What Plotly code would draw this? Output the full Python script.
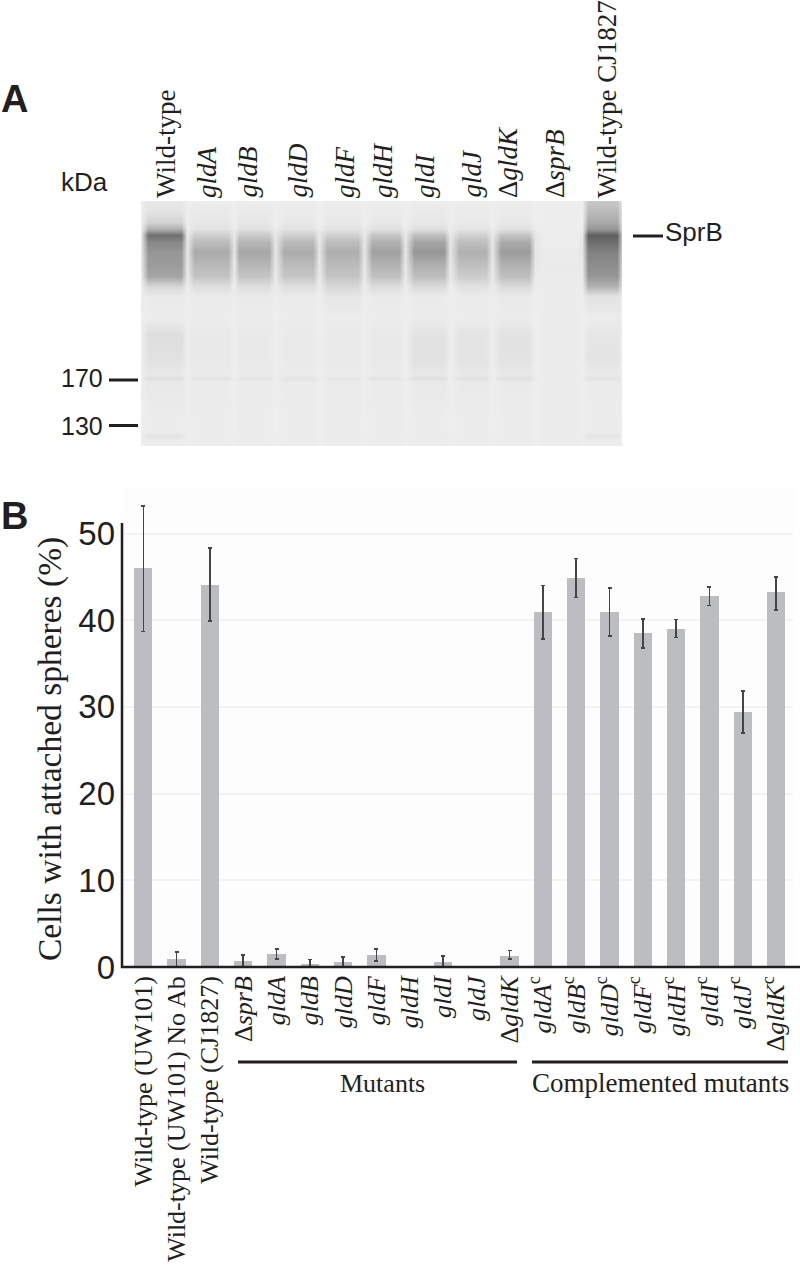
import plotly.graph_objects as go

W, H = 800, 1271

# panel B data
labels = ["Wild-type (UW101)", "Wild-type (UW101) No Ab", "Wild-type (CJ1827)",
          "Δ<i>sprB</i>", "<i>gldA</i>", "<i>gldB</i>", "<i>gldD</i>", "<i>gldF</i>",
          "<i>gldH</i>", "<i>gldI</i>", "<i>gldJ</i>", "Δ<i>gldK</i>",
          "<i>gldA</i><sup>c</sup>", "<i>gldB</i><sup>c</sup>", "<i>gldD</i><sup>c</sup>",
          "<i>gldF</i><sup>c</sup>", "<i>gldH</i><sup>c</sup>", "<i>gldI</i><sup>c</sup>",
          "<i>gldJ</i><sup>c</sup>", "Δ<i>gldK</i><sup>c</sup>"]
values = [46.0, 0.9, 44.05, 0.7, 1.5, 0.3, 0.6, 1.4, 0, 0.6, 0, 1.3,
          41.0, 44.9, 41.0, 38.5, 39.0, 42.8, 29.4, 43.2]
err_up = [7.2, 0.8, 4.25, 0.7, 0.55, 0.55, 0.55, 0.65, 0, 0.7, 0, 0.6,
          3.0, 2.2, 2.7, 1.65, 1.1, 1.05, 2.4, 1.8]
err_down = [7.3, 0.9, 4.15, 0.7, 0.6, 0.3, 0.6, 0.7, 0, 0.6, 0, 0.4,
            3.2, 2.3, 2.8, 1.7, 1.0, 1.1, 2.4, 2.0]
y_ticks = [0, 10, 20, 30, 40, 50]

# panel A blot, grey levels read per lane and row
lane_labels = ["Wild-type", "<i>gldA</i>", "<i>gldB</i>", "<i>gldD</i>", "<i>gldF</i>", "<i>gldH</i>",
               "<i>gldI</i>", "<i>gldJ</i>", "Δ<i>gldK</i>", "Δ<i>sprB</i>", "Wild-type CJ1827"]
lane_left = [144, 190, 235, 280, 323, 368, 410, 455, 497, 540, 584]
lane_right = [185, 232, 273, 317, 362, 403, 448, 490, 533, 580, 621]
blot_rows = [201, 212, 222, 229, 235, 242, 252, 264, 276, 286, 296, 318, 335, 362, 374, 378, 382, 420, 432, 436, 440, 446]
blot_gap = [238, 238, 238, 236, 232, 230, 230, 232, 234, 236, 237, 238, 238, 238, 238, 236, 238, 238, 238, 237, 238, 238]
lane_grey = [
    [232, 226, 212, 175, 112, 135, 150, 155, 165, 215, 234, 236, 222, 226, 232, 224, 232, 236, 236, 226, 236, 236],
    [236, 234, 231, 226, 206, 188, 170, 184, 196, 222, 235, 236, 233, 233, 235, 228, 235, 236, 236, 236, 236, 236],
    [236, 234, 231, 224, 202, 182, 166, 182, 196, 222, 234, 236, 233, 233, 235, 228, 235, 236, 236, 236, 236, 236],
    [236, 235, 232, 226, 206, 186, 172, 186, 198, 222, 235, 236, 234, 234, 235, 229, 235, 236, 236, 236, 236, 236],
    [236, 235, 232, 227, 208, 188, 174, 186, 196, 215, 230, 236, 234, 234, 235, 230, 235, 236, 236, 236, 236, 236],
    [236, 235, 232, 224, 198, 176, 160, 178, 192, 220, 234, 236, 233, 233, 235, 228, 235, 236, 236, 236, 236, 236],
    [236, 234, 232, 222, 190, 165, 150, 174, 190, 218, 234, 236, 226, 226, 232, 224, 233, 236, 236, 235, 236, 236],
    [236, 235, 233, 228, 208, 190, 176, 190, 204, 225, 235, 236, 228, 228, 233, 226, 234, 236, 236, 236, 236, 236],
    [236, 235, 232, 224, 195, 170, 155, 176, 190, 218, 233, 236, 226, 227, 233, 226, 234, 236, 236, 236, 236, 236],
    [237, 237, 237, 237, 237, 237, 236, 234, 236, 236, 236, 236, 236, 236, 236, 235, 236, 236, 236, 236, 236, 236],
    [200, 185, 170, 150, 95, 110, 130, 140, 150, 178, 226, 236, 230, 228, 234, 228, 235, 236, 236, 228, 236, 236],
]


def px(x):
    return x / W


def py(y):
    return 1 - y / H


def text(fig, x, y, s, size, family="Liberation Serif", angle=0, xanchor="center", yanchor="middle", bold=False):
    fig.add_annotation(x=px(x), y=py(y), xref="paper", yref="paper", text=f"<b>{s}</b>" if bold else s,
                       showarrow=False, textangle=angle, xanchor=xanchor, yanchor=yanchor,
                       font=dict(family=family, size=size, color="#231f20"),
                       borderpad=0, borderwidth=0)


def stroke(fig, x0, y0, x1, y1, w):
    fig.add_shape(type="line", xref="paper", yref="paper", x0=px(x0), y0=py(y0), x1=px(x1), y1=py(y1),
                  line=dict(color="#231f20", width=w), layer="above")


fig = go.Figure()

# blot
x_cols = [141]
z_rows = [[] for _ in blot_rows]
for i in range(len(blot_rows)):
    z_rows[i].append(blot_gap[i])
for j in range(len(lane_labels)):
    x_cols += [lane_left[j] + 4, lane_right[j] - 4, lane_right[j] + 2]
    for i in range(len(blot_rows)):
        z_rows[i] += [lane_grey[j][i], lane_grey[j][i], blot_gap[i]]

fig.add_trace(go.Heatmap(x=x_cols, y=blot_rows, z=z_rows, zsmooth="best", zmin=0, zmax=255,
                         colorscale=[[0, "#000000"], [1, "#ffffff"]], showscale=False,
                         xaxis="x2", yaxis="y2", hoverinfo="skip"))

# bars
fig.add_trace(go.Bar(x=list(range(len(labels))), y=values, width=0.55, marker_color="#bcbdc0",
                     marker_line_width=0,
                     error_y=dict(type="data", symmetric=False, array=err_up, arrayminus=err_down,
                                  color="#454545", thickness=1.6, width=2),
                     showlegend=False))

fig.update_layout(
    width=W, height=H, margin=dict(l=0, r=0, t=0, b=0, autoexpand=False), autosize=False,
    paper_bgcolor="white", plot_bgcolor="#fdfdfd", showlegend=False, bargap=0,
    font=dict(family="Liberation Serif", color="#231f20"),
    xaxis=dict(domain=[px(122), px(793)], range=[-0.64, 19.51], tickmode="array",
               tickvals=list(range(len(labels))), ticktext=labels, tickangle=-90, automargin=False,
               tickfont=dict(family="Liberation Serif", size=26, color="#231f20"),
               showgrid=False, zeroline=False, showline=False, ticks="", ticklabelstandoff=3),
    yaxis=dict(domain=[py(967), py(488)], range=[0, 479 / 8.67], tickmode="array", tickvals=y_ticks,
               tickfont=dict(family="Liberation Sans", size=33, color="#231f20"), automargin=False,
               showgrid=True, gridcolor="#f3f3f3", gridwidth=2, zeroline=False, showline=False,
               ticks="", ticklabelstandoff=6),
    xaxis2=dict(domain=[px(141), px(622)], range=[141, 622], visible=False, anchor="y2"),
    yaxis2=dict(domain=[py(446), py(201)], range=[446, 201], visible=False, anchor="x2"),
)

# spines
stroke(fig, 122, 523, 122, 968, 2.5)
stroke(fig, 121, 967, 800, 967, 2.5)

# panel B text
text(fig, 50, 749, "Cells with attached spheres (%)", 33.5, angle=-90)
stroke(fig, 238, 1062, 517, 1062, 3)
stroke(fig, 532, 1062, 788, 1062, 3)
text(fig, 382, 1083, "Mutants", 26)
text(fig, 660, 1083, "Complemented mutants", 27)
text(fig, 1, 516, "B", 38, family="Liberation Sans", xanchor="left", bold=True)

# panel A text
text(fig, 1, 99, "A", 38, family="Liberation Sans", xanchor="left", bold=True)
text(fig, 61, 182, "kDa", 26, family="Liberation Sans", xanchor="left")
text(fig, 61, 378, "170", 25, family="Liberation Sans", xanchor="left")
text(fig, 61, 426, "130", 25, family="Liberation Sans", xanchor="left")
stroke(fig, 109, 380, 138, 380, 3)
stroke(fig, 109, 425.5, 138, 425.5, 3)
stroke(fig, 633, 236, 663, 236, 3)
text(fig, 665, 232, "SprB", 26, family="Liberation Sans", xanchor="left")
lane_label_x = [166, 207, 248, 298, 345, 383, 425, 472, 508, 555, 607]
for lx, lab in zip(lane_label_x, lane_labels):
    text(fig, lx, 198, lab, 27, angle=-90, yanchor="bottom")

# the page's default body margin would push the figure 8px off
fig.write_html("out.html", config=dict(displayModeBar=False), post_script="document.body.style.margin='0';")
